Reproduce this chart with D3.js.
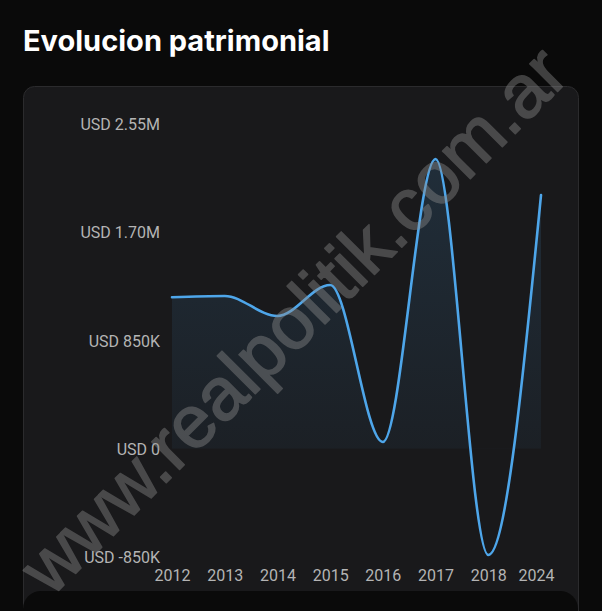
<!DOCTYPE html>
<html>
<head>
<meta charset="utf-8">
<script src="https://cdn.jsdelivr.net/npm/d3@7/dist/d3.min.js"></script>
<style>
  html, body { margin: 0; padding: 0; background: #0a0a0a; }
  svg { display: block; }
</style>
</head>
<body>
<svg id="chart" width="602" height="611"></svg>
<script>
// ---- data ----
const years = ["2012", "2013", "2014", "2015", "2016", "2017", "2018", "2024"];
const values = [1190000, 1200000, 1042000, 1286000, 53000, 2275000, -834000, 1992000];
const yTicks = [-850000, 0, 850000, 1700000, 2550000];
const yTickLabels = ["USD -850K", "USD 0", "USD 850K", "USD 1.70M", "USD 2.55M"];
const title = "Evolucion patrimonial";
const watermark = "www.realpolitik.com.ar";

const W = 602, H = 611;
const svg = d3.select("#chart");

// page + cards
svg.append("rect").attr("width", W).attr("height", H).attr("fill", "#0a0a0a");
svg.append("rect")
  .attr("x", 23.5).attr("y", 86.5).attr("width", 555).attr("height", 560)
  .attr("rx", 11).attr("fill", "#19191b").attr("stroke", "#2b2b2d").attr("stroke-width", 1);

svg.append("text")
  .attr("x", 23).attr("y", 51)
  .attr("font-family", "Inter, 'Noto Sans', sans-serif")
  .attr("font-weight", 700).attr("font-size", 29)
  .attr("fill", "#ffffff")
  .text(title);

// scales
const x = d3.scalePoint().domain(years).range([172, 541]);
const y = d3.scaleLinear().domain([-850000, 2550000]).range([557, 124]);

const data = years.map((yr, i) => ({ yr, v: values[i] }));

// gradient for area
const defs = svg.append("defs");
const grad = defs.append("linearGradient")
  .attr("id", "fillGrad").attr("gradientUnits", "userSpaceOnUse")
  .attr("x1", 0).attr("x2", 0).attr("y1", y(2275000)).attr("y2", y(0));
grad.append("stop").attr("offset", "0%").attr("stop-color", "#4aa3e8").attr("stop-opacity", 0.15);
grad.append("stop").attr("offset", "100%").attr("stop-color", "#4aa3e8").attr("stop-opacity", 0.05);

defs.append("clipPath").attr("id", "aboveZero")
  .append("rect").attr("x", 0).attr("y", 0).attr("width", W).attr("height", y(0));

const area = d3.area()
  .x(d => x(d.yr)).y0(y(0)).y1(d => y(d.v))
  .curve(d3.curveMonotoneX);
const line = d3.line()
  .x(d => x(d.yr)).y(d => y(d.v))
  .curve(d3.curveMonotoneX);

svg.append("path").datum(data)
  .attr("d", area).attr("fill", "url(#fillGrad)")
  .attr("clip-path", "url(#aboveZero)");

svg.append("path").datum(data)
  .attr("d", line).attr("fill", "none")
  .attr("stroke", "#4ea6ea").attr("stroke-width", 2.6)
  .attr("stroke-linejoin", "round").attr("stroke-linecap", "round");

// y axis labels
const yAxis = d3.axisLeft(y).tickValues(yTicks)
  .tickFormat((d, i) => yTickLabels[i]).tickSize(0).tickPadding(0);
const gy = svg.append("g").attr("transform", "translate(160,0)").call(yAxis);
gy.select(".domain").remove();
gy.selectAll("text")
  .attr("font-family", "Roboto, sans-serif").attr("font-size", 16)
  .attr("fill", "#b4b4b4").attr("dy", "0.35em");

// x axis labels
const xAxis = d3.axisBottom(x).tickSize(0).tickPadding(0);
const gx = svg.append("g").attr("transform", "translate(0,575)").call(xAxis);
gx.select(".domain").remove();
gx.selectAll("text")
  .attr("font-family", "Roboto, sans-serif").attr("font-size", 16)
  .attr("fill", "#b4b4b4").attr("dy", "0.35em");
gx.selectAll(".tick").filter(d => d === years[years.length - 1])
  .select("text").attr("dx", -5);

// lower card
svg.append("rect")
  .attr("x", 23).attr("y", 591).attr("width", 555).attr("height", 80)
  .attr("rx", 18).attr("fill", "#0a0a0a");

// watermark
svg.append("text")
  .attr("transform", "translate(51,598) rotate(-45)")
  .attr("font-family", "'Liberation Sans', Arial, sans-serif")
  .attr("font-size", 74)
  .attr("fill", "#8c8c8c")
  .attr("stroke", "#8c8c8c").attr("stroke-width", 1.6).attr("stroke-linejoin", "round")
  .attr("opacity", 0.42)
  .text(watermark);
</script>
</body>
</html>
